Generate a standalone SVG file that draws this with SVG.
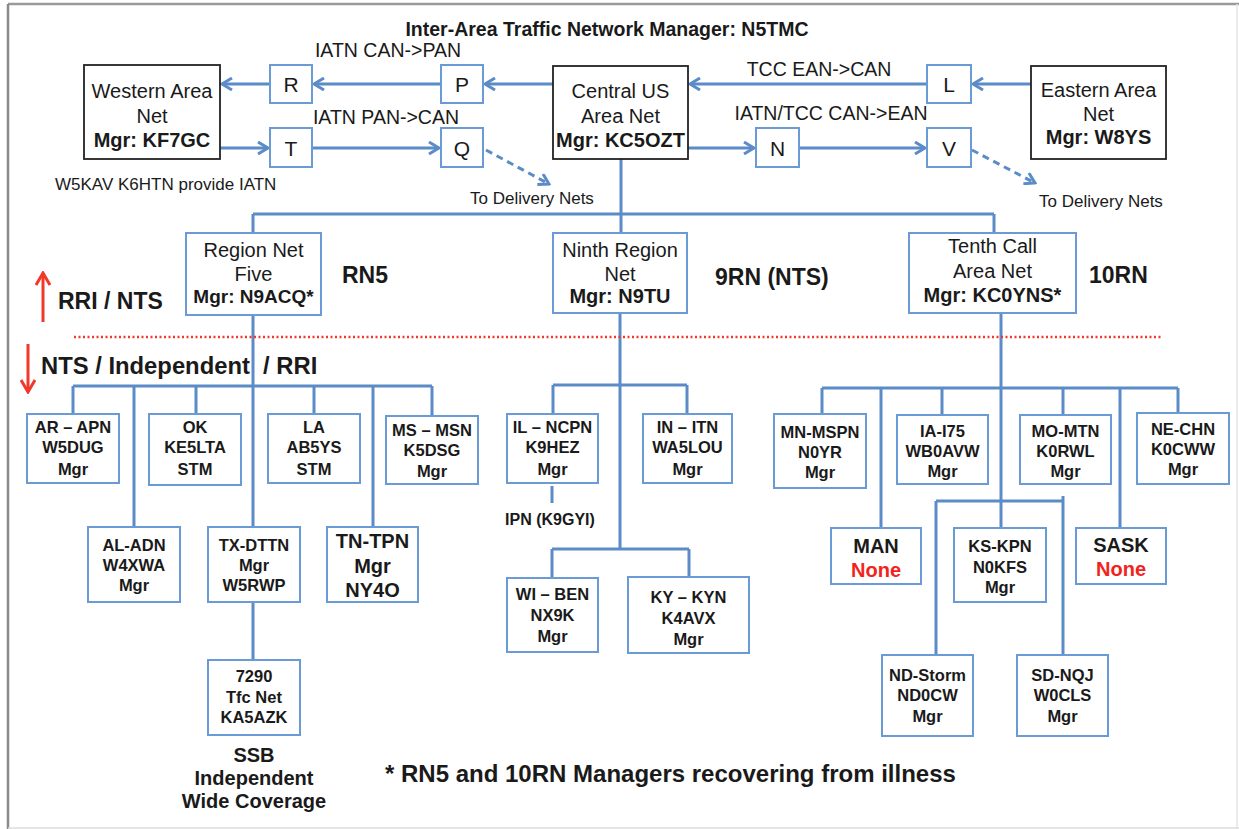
<svg xmlns="http://www.w3.org/2000/svg" width="1239" height="829" viewBox="0 0 1239 829">
<style>
text{font-family:"Liberation Sans",Arial,sans-serif;fill:#1a1a1a}
.c{text-anchor:middle}
.b{font-weight:bold}
.area{fill:#fff;stroke:#222;stroke-width:1.8}
.bx{fill:#fff;stroke:#6b9bd6;stroke-width:2}
.ln{fill:none;stroke:#5b8cc8;stroke-width:3}
.dash{fill:none;stroke:#5b8cc8;stroke-width:3;stroke-dasharray:7 5}
.red{fill:none;stroke:#f2382b;stroke-width:3}
.t20{font-size:20px}
.lbl{font-size:19.5px}
.s{font-size:16.5px;font-weight:bold}
.lg{font-size:23px;font-weight:bold}
.none{fill:#f2231c}
</style>
<defs>
<marker id="arr" viewBox="0 0 14 14" refX="12" refY="7" markerWidth="14" markerHeight="14" markerUnits="userSpaceOnUse" orient="auto">
<path d="M2,1 L12,7 L2,13" fill="none" stroke="#5b8cc8" stroke-width="3"/>
</marker>
<marker id="arrR" viewBox="0 0 16 16" refX="14" refY="8" markerWidth="16" markerHeight="16" markerUnits="userSpaceOnUse" orient="auto">
<path d="M2,1 L14,8 L2,15" fill="none" stroke="#f2382b" stroke-width="3"/>
</marker>
</defs>
<rect x="0" y="0" width="1239" height="829" fill="#fff"/>
<g id="frame">
<line x1="8" y1="4" x2="1239" y2="4" stroke="#9a9a9a" stroke-width="2.5"/>
<line x1="8" y1="4" x2="8" y2="829" stroke="#8a8a8a" stroke-width="2.5"/>
<line x1="1237" y1="4" x2="1237" y2="829" stroke="#e4e4e4" stroke-width="1.5"/>
<line x1="8" y1="828" x2="1239" y2="828" stroke="#dcdcdc" stroke-width="1.5"/>
</g>
<g id="connectors">
<line class="ln" x1="553" y1="84" x2="485" y2="84" marker-end="url(#arr)"/>
<line class="ln" x1="441" y1="84" x2="314" y2="84" marker-end="url(#arr)"/>
<line class="ln" x1="270" y1="84" x2="222" y2="84" marker-end="url(#arr)"/>
<line class="ln" x1="1031" y1="84" x2="973" y2="84" marker-end="url(#arr)"/>
<line class="ln" x1="927" y1="84" x2="690" y2="84" marker-end="url(#arr)"/>
<line class="ln" x1="220" y1="148" x2="268" y2="148" marker-end="url(#arr)"/>
<line class="ln" x1="312" y1="148" x2="439" y2="148" marker-end="url(#arr)"/>
<line class="ln" x1="688" y1="148" x2="754" y2="148" marker-end="url(#arr)"/>
<line class="ln" x1="799" y1="148" x2="925" y2="148" marker-end="url(#arr)"/>
<line class="dash" x1="486" y1="150" x2="549" y2="184" marker-end="url(#arr)"/>
<line class="dash" x1="972" y1="150" x2="1035" y2="183" marker-end="url(#arr)"/>
<path class="ln" d="M621,159 V233 M253,214 H994 M253,214 V233 M994,214 V233"/>
<path class="ln" d="M253,315 V527 M73,386 H432 M73,386 V414 M134,386 V527 M196,386 V414 M314,386 V414 M373,386 V527 M432,386 V416 M253,602 V660"/>
<path class="ln" d="M620,313 V549 M553,385 H687 M553,385 V414 M687,385 V414 M552,549 H689 M552,549 V578 M689,549 V577 M552,486 V503"/>
<path class="ln" d="M1001,313 V528 M822,388 H1178 M822,388 V414 M881,388 V528 M942,388 V415 M1063,388 V415 M1120,388 V528 M1178,388 V413 M936,501 H1063 M936,501 V655 M1063,496 V655"/>
<line class="red" x1="43" y1="322" x2="43" y2="273" marker-end="url(#arrR)"/>
<line class="red" x1="28" y1="344" x2="28" y2="392" marker-end="url(#arrR)"/>
<line x1="74" y1="337" x2="1163" y2="337" stroke="#f2382b" stroke-width="2.5" stroke-dasharray="2 2.5"/>
</g>
<g id="labels">
<text class="b c" x="607" y="36" font-size="19.5">Inter-Area Traffic Network Manager: N5TMC</text>
<text class="c lbl" x="388" y="57">IATN CAN-&gt;PAN</text>
<text class="c lbl" x="386" y="124">IATN PAN-&gt;CAN</text>
<text class="c lbl" x="819" y="76">TCC EAN-&gt;CAN</text>
<text class="c lbl" x="831" y="120">IATN/TCC CAN-&gt;EAN</text>
<text x="55" y="190" font-size="17">W5KAV K6HTN provide IATN</text>
<text class="c" x="532" y="204" font-size="17">To Delivery Nets</text>
<text class="c" x="1101" y="207" font-size="17">To Delivery Nets</text>
<text class="lg" x="342" y="283">RN5</text>
<text class="lg" x="715" y="285">9RN (NTS)</text>
<text class="lg" x="1089" y="283">10RN</text>
<text class="lg" x="58" y="309">RRI / NTS</text>
<text class="b" x="41" y="374" font-size="23.8" xml:space="preserve" style="white-space:pre">NTS / Independent  / RRI</text>
<text class="c b t20" x="254" y="762">SSB</text>
<text class="c b t20" x="254" y="785">Independent</text>
<text class="c b t20" x="254" y="808">Wide Coverage</text>
<text class="b" x="385" y="782" font-size="24">* RN5 and 10RN Managers recovering from illness</text>
<text class="c b" x="550" y="525" font-size="16">IPN (K9GYI)</text>
</g>
<g id="western">
<rect class="area" x="84" y="65" width="136" height="94"/>
<text class="c t20" x="152" y="98">Western Area</text>
<text class="c t20" x="152" y="123">Net</text>
<text class="c t20 b" x="152" y="147">Mgr: KF7GC</text>
</g>
<g id="central">
<rect class="area" x="553" y="66" width="135" height="93"/>
<text class="c t20" x="620.5" y="98">Central US</text>
<text class="c t20" x="620.5" y="123">Area Net</text>
<text class="c t20 b" x="620.5" y="147">Mgr: KC5OZT</text>
</g>
<g id="eastern">
<rect class="area" x="1031" y="66" width="135" height="93"/>
<text class="c t20" x="1098.5" y="97">Eastern Area</text>
<text class="c t20" x="1098.5" y="121">Net</text>
<text class="c t20 b" x="1098.5" y="144">Mgr: W8YS</text>
</g>
<g id="node-R"><rect class="bx" x="270" y="65" width="42" height="38"/><text class="c" x="291" y="92" font-size="21">R</text></g>
<g id="node-P"><rect class="bx" x="441" y="65" width="42" height="38"/><text class="c" x="462" y="92" font-size="21">P</text></g>
<g id="node-L"><rect class="bx" x="927" y="65" width="44" height="38"/><text class="c" x="949" y="92" font-size="21">L</text></g>
<g id="node-T"><rect class="bx" x="270" y="128" width="42" height="39"/><text class="c" x="291" y="156" font-size="21">T</text></g>
<g id="node-Q"><rect class="bx" x="441" y="128" width="42" height="39"/><text class="c" x="462" y="156" font-size="21">Q</text></g>
<g id="node-N"><rect class="bx" x="756" y="128" width="43" height="39"/><text class="c" x="777.5" y="156" font-size="21">N</text></g>
<g id="node-V"><rect class="bx" x="927" y="128" width="44" height="39"/><text class="c" x="949" y="156" font-size="21">V</text></g>
<g id="rn5">
<rect class="bx" x="186" y="233" width="135" height="82"/>
<text class="c t20" x="253.5" y="257">Region Net</text>
<text class="c t20" x="253.5" y="281">Five</text>
<text class="c b" x="253.5" y="303" font-size="19">Mgr: N9ACQ*</text>
</g>
<g id="ninth">
<rect class="bx" x="553" y="233" width="134" height="80"/>
<text class="c t20" x="620" y="257">Ninth Region</text>
<text class="c t20" x="620" y="281">Net</text>
<text class="c b t20" x="620" y="303">Mgr: N9TU</text>
</g>
<g id="tenth">
<rect class="bx" x="909" y="233" width="167" height="80"/>
<text class="c t20" x="992.5" y="253">Tenth Call</text>
<text class="c t20" x="992.5" y="278">Area Net</text>
<text class="c b t20" x="992.5" y="302">Mgr: KC0YNS*</text>
</g>
<g id="ar"><rect class="bx" x="27" y="414" width="92" height="69"/>
<text class="c s" x="73" y="433">AR – APN</text><text class="c s" x="73" y="453">W5DUG</text><text class="c s" x="73" y="475">Mgr</text></g>
<g id="ok"><rect class="bx" x="149" y="414" width="92" height="71"/>
<text class="c s" x="195" y="433">OK</text><text class="c s" x="195" y="453">KE5LTA</text><text class="c s" x="195" y="475">STM</text></g>
<g id="la"><rect class="bx" x="268" y="414" width="92" height="69"/>
<text class="c s" x="314" y="433">LA</text><text class="c s" x="314" y="453">AB5YS</text><text class="c s" x="314" y="475">STM</text></g>
<g id="ms"><rect class="bx" x="386" y="416" width="92" height="68"/>
<text class="c s" x="432" y="436">MS – MSN</text><text class="c s" x="432" y="456">K5DSG</text><text class="c s" x="432" y="477">Mgr</text></g>
<g id="al"><rect class="bx" x="88" y="527" width="92" height="75"/>
<text class="c s" x="134" y="551">AL-ADN</text><text class="c s" x="134" y="571">W4XWA</text><text class="c s" x="134" y="591">Mgr</text></g>
<g id="tx"><rect class="bx" x="208" y="527" width="92" height="75"/>
<text class="c s" x="254" y="551">TX-DTTN</text><text class="c s" x="254" y="571">Mgr</text><text class="c s" x="254" y="591">W5RWP</text></g>
<g id="tn"><rect class="bx" x="327" y="527" width="91" height="75"/>
<text class="c b t20" x="372.5" y="548">TN-TPN</text><text class="c b t20" x="372.5" y="573">Mgr</text><text class="c b t20" x="372.5" y="597">NY4O</text></g>
<g id="n7290"><rect class="bx" x="208" y="660" width="92" height="75"/>
<text class="c s" x="254" y="682">7290</text><text class="c s" x="254" y="703">Tfc Net</text><text class="c s" x="254" y="723">KA5AZK</text></g>
<g id="il"><rect class="bx" x="507" y="414" width="91" height="69"/>
<text class="c s" x="552.5" y="433">IL – NCPN</text><text class="c s" x="552.5" y="453">K9HEZ</text><text class="c s" x="552.5" y="475">Mgr</text></g>
<g id="in"><rect class="bx" x="643" y="414" width="89" height="69"/>
<text class="c s" x="687.5" y="433">IN – ITN</text><text class="c s" x="687.5" y="453">WA5LOU</text><text class="c s" x="687.5" y="475">Mgr</text></g>
<g id="wi"><rect class="bx" x="507" y="578" width="91" height="74"/>
<text class="c s" x="552.5" y="600">WI – BEN</text><text class="c s" x="552.5" y="621">NX9K</text><text class="c s" x="552.5" y="642">Mgr</text></g>
<g id="ky"><rect class="bx" x="628" y="577" width="121" height="76"/>
<text class="c s" x="688.5" y="603">KY – KYN</text><text class="c s" x="688.5" y="624">K4AVX</text><text class="c s" x="688.5" y="645">Mgr</text></g>
<g id="mn"><rect class="bx" x="774" y="414" width="92" height="74"/>
<text class="c s" x="820" y="438">MN-MSPN</text><text class="c s" x="820" y="458">N0YR</text><text class="c s" x="820" y="478">Mgr</text></g>
<g id="ia"><rect class="bx" x="897" y="415" width="91" height="69"/>
<text class="c s" x="942.5" y="437">IA-I75</text><text class="c s" x="942.5" y="457">WB0AVW</text><text class="c s" x="942.5" y="477">Mgr</text></g>
<g id="mo"><rect class="bx" x="1020" y="415" width="91" height="69"/>
<text class="c s" x="1065.5" y="437">MO-MTN</text><text class="c s" x="1065.5" y="457">K0RWL</text><text class="c s" x="1065.5" y="477">Mgr</text></g>
<g id="ne"><rect class="bx" x="1137" y="413" width="92" height="71"/>
<text class="c s" x="1183" y="435">NE-CHN</text><text class="c s" x="1183" y="455">K0CWW</text><text class="c s" x="1183" y="475">Mgr</text></g>
<g id="man"><rect class="bx" x="831" y="528" width="90" height="56"/>
<text class="c b t20" x="876" y="553">MAN</text><text class="c b t20 none" x="876" y="577">None</text></g>
<g id="ks"><rect class="bx" x="954" y="528" width="92" height="74"/>
<text class="c s" x="1000" y="552">KS-KPN</text><text class="c s" x="1000" y="573">N0KFS</text><text class="c s" x="1000" y="593">Mgr</text></g>
<g id="sask"><rect class="bx" x="1076" y="528" width="90" height="56"/>
<text class="c b t20" x="1121" y="552">SASK</text><text class="c b t20 none" x="1121" y="576">None</text></g>
<g id="nd"><rect class="bx" x="882" y="655" width="91" height="81"/>
<text class="c s" x="927.5" y="681">ND-Storm</text><text class="c s" x="927.5" y="701">ND0CW</text><text class="c s" x="927.5" y="722">Mgr</text></g>
<g id="sd"><rect class="bx" x="1017" y="655" width="91" height="81"/>
<text class="c s" x="1062.5" y="681">SD-NQJ</text><text class="c s" x="1062.5" y="701">W0CLS</text><text class="c s" x="1062.5" y="722">Mgr</text></g>
</svg>
